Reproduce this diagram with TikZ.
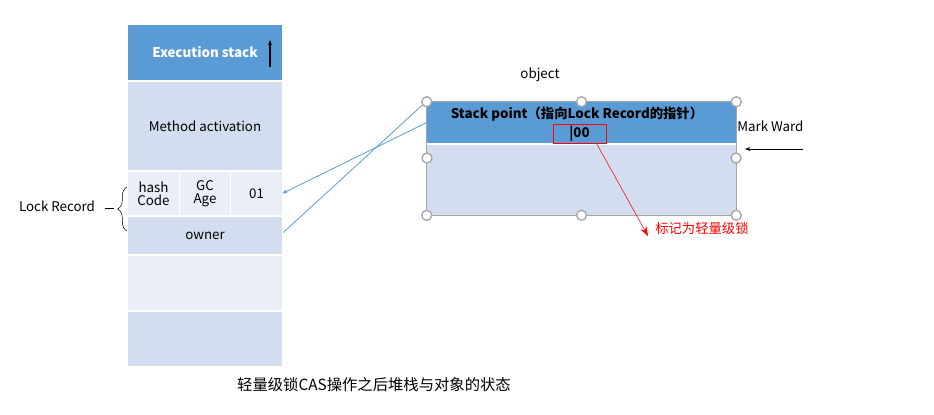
\documentclass[tikz,border=0pt]{standalone}
\usepackage{fontspec}
\setmainfont{Noto Sans CJK SC}
\usetikzlibrary{arrows.meta,positioning,calc,decorations.pathreplacing}
\definecolor{darkcell}{HTML}{5B9BD5}
\definecolor{midcell}{HTML}{D2DEEF}
\definecolor{lightcell}{HTML}{E9EEF7}
\definecolor{handlegray}{HTML}{A6A6A6}

\begin{document}
\begin{tikzpicture}[
        x=0.75pt, y=-0.75pt,
        every node/.style={color=black, font=\fontsize{10}{12}\selectfont},
        cell/.style={fill=#1, inner sep=0pt, align=center},
        wide/.style={minimum width=115.5pt},
        link/.style={darkcell, line width=0.6pt},
        handle/.style={circle, draw=handlegray, fill=white, line width=1pt,
            minimum size=7.5pt, inner sep=0pt},
    ]
    \useasboundingbox (0,0) rectangle (934,414);
    % execution stack
    \node[cell=darkcell, wide, minimum height=41.25pt, text=white,
          font=\fontsize{10}{12}\selectfont\bfseries] at (205,52.5) (exec) {Execution stack};
    \node[cell=midcell, wide, minimum height=66pt] at (205,126) (method) {Method activation};
    \node[cell=lightcell, minimum width=38.25pt, minimum height=32.25pt] at (153.5,193.5) (hash) {hash\\[-2pt]Code};
    \node[cell=lightcell, minimum width=37.5pt, minimum height=32.25pt] at (205,193.5) (age) {GC\\[-2pt]Age};
    \node[cell=lightcell, minimum width=38.25pt, minimum height=32.25pt] at (256.5,193.5) (flag) {01};
    \node[cell=midcell, wide, minimum height=27.75pt] at (205,235.5) (owner) {owner};
    \node[cell=lightcell, wide, minimum height=40.5pt] at (205,283) (free1) {};
    \node[cell=midcell, wide, minimum height=40.5pt] at (205,339) (free2) {};
    \draw[-{Stealth[length=4pt,width=3pt]}, line width=0.8pt] (270,67) -- (270,40);
    % lock record
    \node at (57,206) (lockrec) {Lock Record};
    \draw[decorate, decoration={brace, amplitude=7pt}] (127,231) -- (127,187) coordinate[midway] (bracemid);
    \draw (lockrec.east) ++(5,2) -- ++(9,0);
    % object
    \node at (540,75) (objname) {object};
    \node[cell=darkcell, minimum width=231.75pt, minimum height=30.75pt] at (581.5,122.5) (objhead) {};
    \node[cell=midcell, minimum width=231.75pt, minimum height=52.5pt] at (581.5,180) (objbody) {};
    \draw[handlegray, line width=0.8pt] (objhead.north west) rectangle (objbody.south east);
    \node[font=\fontsize{10}{12}\selectfont\bfseries] at (577,114) (stackpt) {Stack point（指向Lock Record的指针）};
    \node[draw=red, line width=0.6pt, minimum width=39.75pt, minimum height=14.25pt, inner sep=0pt,
          font=\fontsize{10}{12}\selectfont\bfseries] at (579.5,133.5) (bits) {|00};
    \foreach \p in {north west, north, north east} \node[handle] at (objhead.\p) {};
    \foreach \p in {south west, south, south east} \node[handle] at (objbody.\p) {};
    \node[handle] at (427,158) {};
    \node[handle] at (736,158) {};
    % links
    \draw[link, -{Stealth[length=4pt,width=3pt]}] (objhead.west) -- (flag.east);
    \draw[link] ($(objhead.north west)+(-4,3)$) -- ($(owner.east)+(1,-3)$);
    % mark word
    \node[anchor=west, inner sep=0pt] at (737,126) (markward) {Mark Ward};
    \coordinate (mwtail) at (803,149);
    \draw[-{Stealth[length=4pt,width=3pt]}] (mwtail) -- (745,149);
    % light-weight lock flag
    \node[anchor=west, inner sep=0pt, text=red] at (655,228) (lightlock) {标记为轻量级锁};
    \coordinate (redtip) at (648,236);
    \draw[red, -{Stealth[length=7pt,width=5pt]}] ($(bits.south)+(17,0)$) -- (redtip);
    % caption
    \node[font=\fontsize{11.5}{13}\selectfont] at (374,385) (caption) {轻量级锁CAS操作之后堆栈与对象的状态};
\end{tikzpicture}
\end{document}
